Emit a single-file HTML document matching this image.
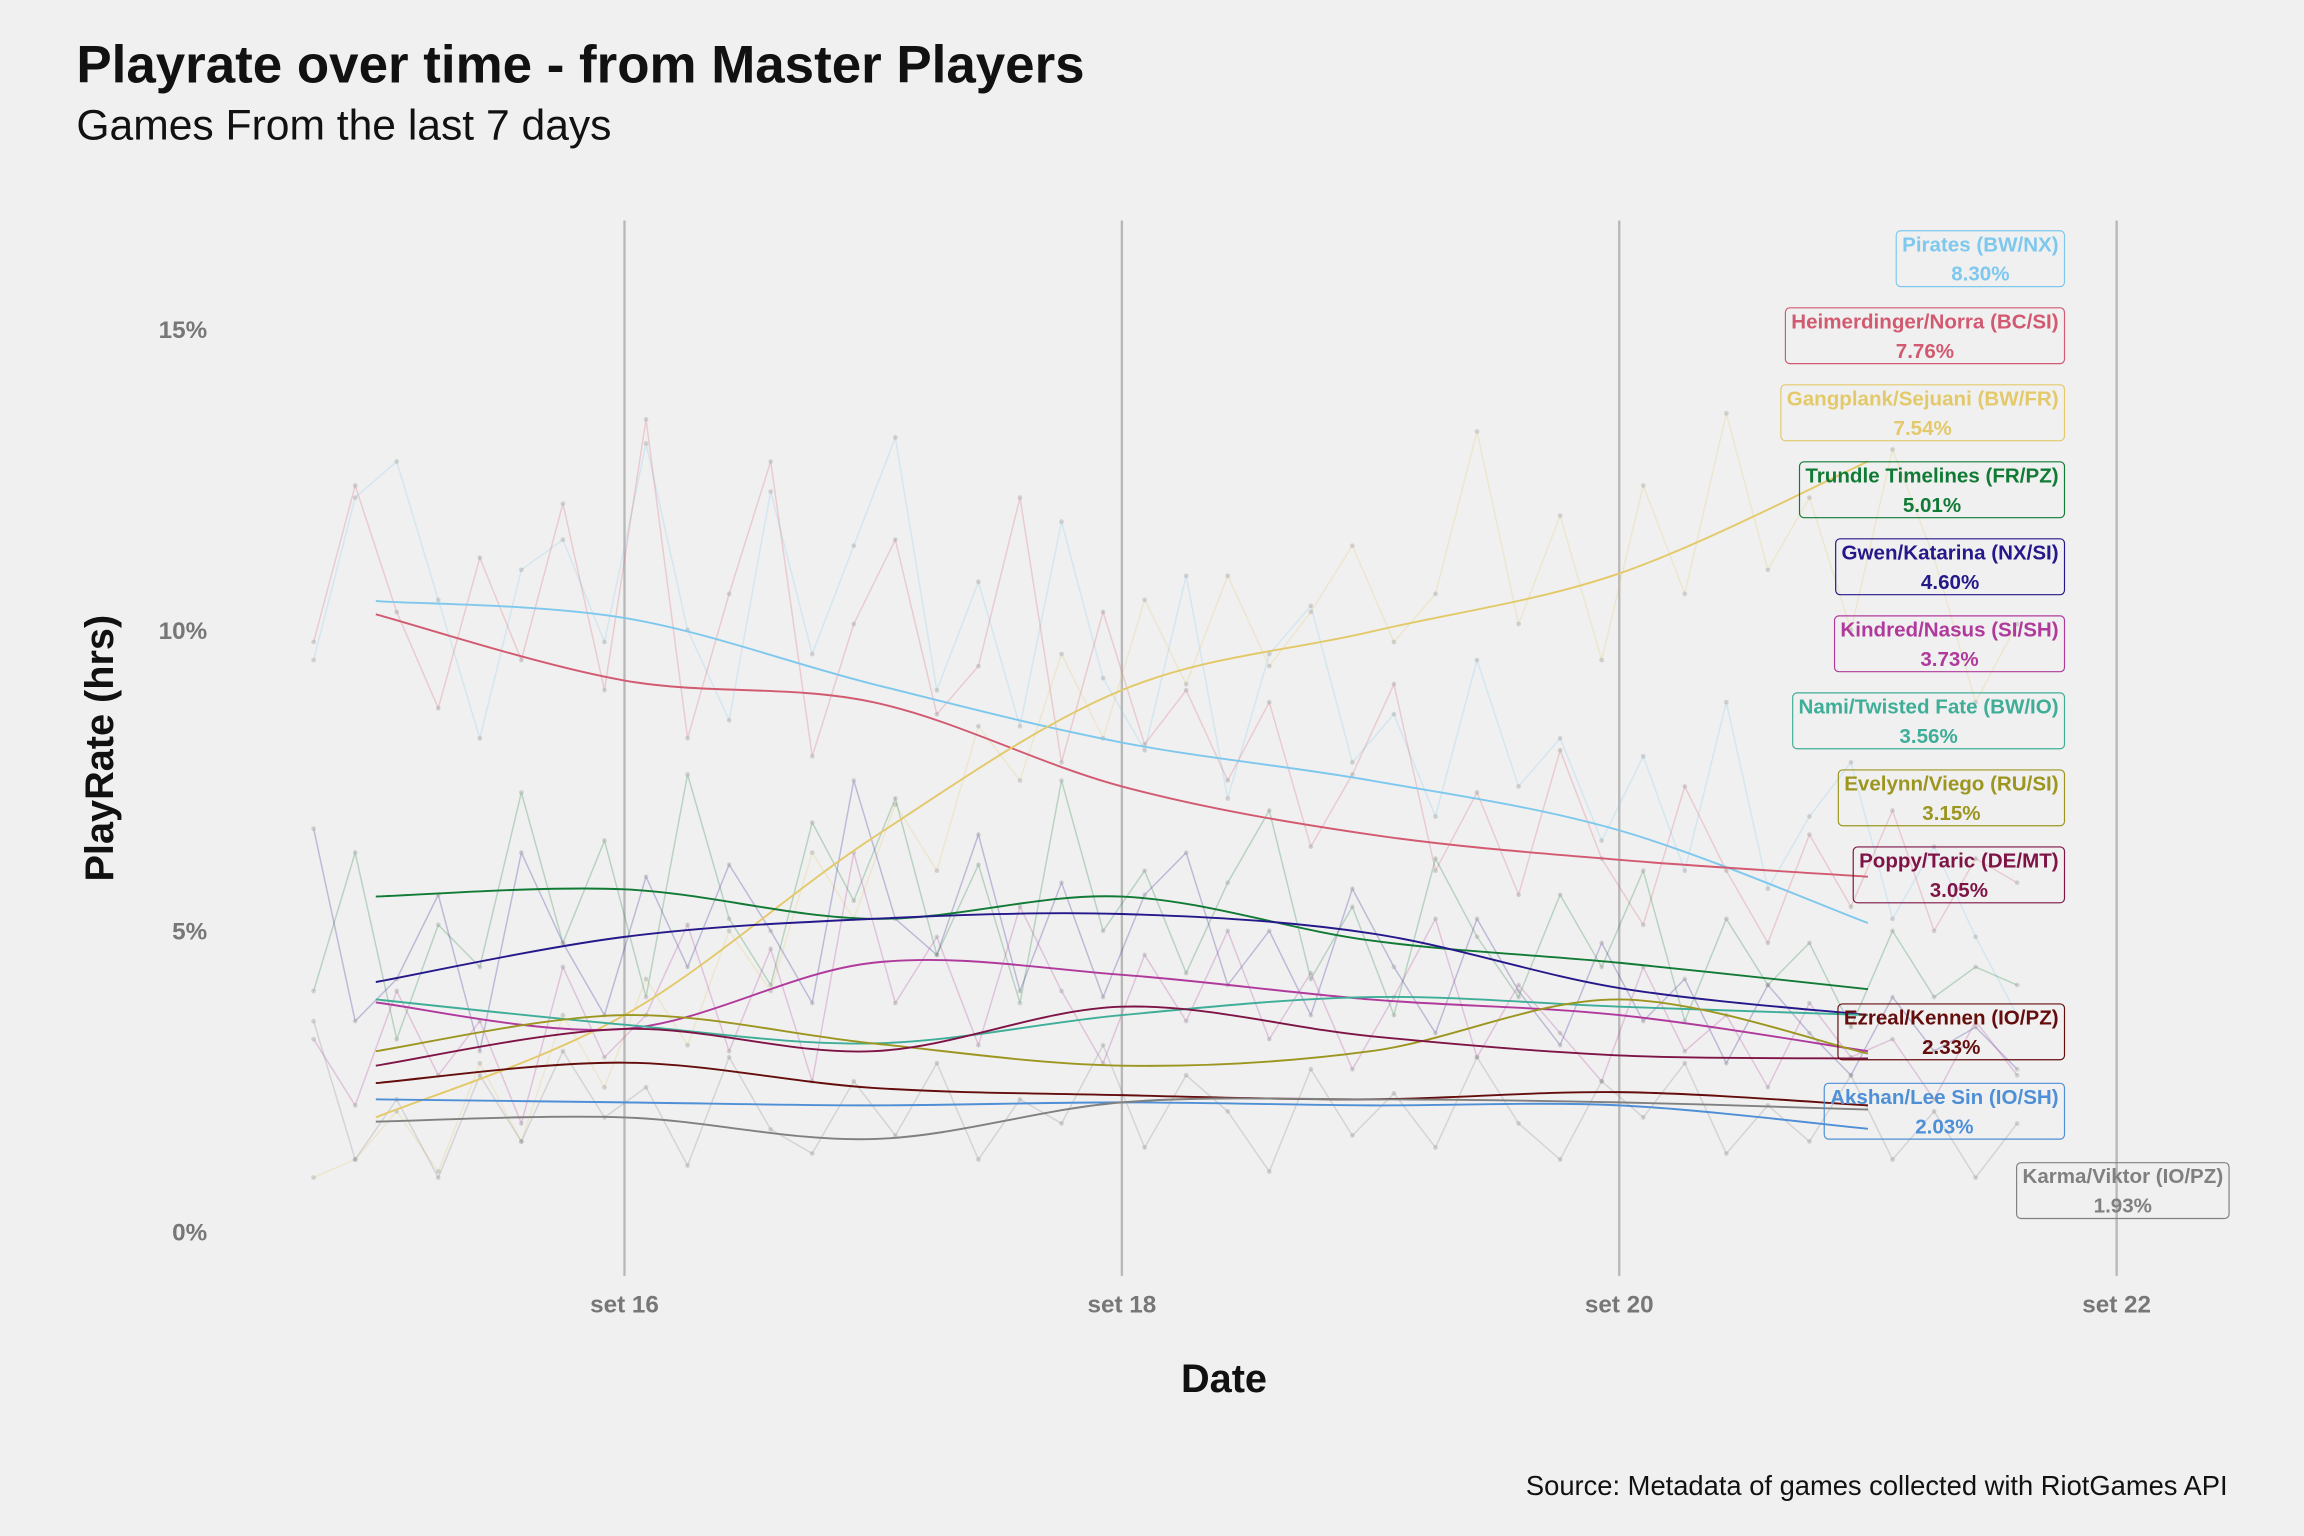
<!DOCTYPE html>
<html><head><meta charset="utf-8">
<style>
html,body{margin:0;padding:0;background:#f0f0f0;}
svg{display:block;font-family:"Liberation Sans",sans-serif;}
</style></head>
<body>
<svg id="chart" width="2304" height="1536" viewBox="0 0 1568 1045" preserveAspectRatio="none" xmlns="http://www.w3.org/2000/svg">
<rect width="1568" height="1045" fill="#f0f0f0"/>
<text x="52" y="56" font-size="36" font-weight="bold" fill="#111">Playrate over time - from Master Players</text>
<text x="52" y="95" font-size="29" fill="#111">Games From the last 7 days</text>
<text transform="translate(77,509) rotate(-90)" text-anchor="middle" font-size="27" font-weight="bold" fill="#111">PlayRate (hrs)</text>
<text x="833" y="947" text-anchor="middle" font-size="27" font-weight="bold" fill="#111">Date</text>
<text x="1516" y="1017" text-anchor="end" font-size="18.6" fill="#111">Source: Metadata of games collected with RiotGames API</text>
<g id="grid"></g>
<g id="raw"></g>
<g id="smooth"></g>
<g id="labels"></g>
</svg>
<script>
const xTickDays = [16, 18, 20, 22];
const xTickLabels = ["set 16", "set 18", "set 20", "set 22"];
const yTicks = [0, 5, 10, 15];
const yTickLabels = ["0%", "5%", "10%", "15%"];
const seriesNames = ["Pirates (BW/NX)","Heimerdinger/Norra (BC/SI)","Gangplank/Sejuani (BW/FR)","Trundle Timelines (FR/PZ)","Gwen/Katarina (NX/SI)","Kindred/Nasus (SI/SH)","Nami/Twisted Fate (BW/IO)","Evelynn/Viego (RU/SI)","Poppy/Taric (DE/MT)","Ezreal/Kennen (IO/PZ)","Akshan/Lee Sin (IO/SH)","Karma/Viktor (IO/PZ)"];
const seriesTotals = ["8.30%","7.76%","7.54%","5.01%","4.60%","3.73%","3.56%","3.15%","3.05%","2.33%","2.03%","1.93%"];
const seriesColors = ["#7ec8ee","#d25a70","#e3c96a","#117a35","#25188a","#b03a9c","#3fae98","#9c9620","#7e1446","#650d0d","#4f8fd6","#808080"];
const smoothDays = [15, 16, 17, 18, 19, 20, 21];
const smoothPirates = [10.48, 10.2, 9.1, 8.13, 7.5, 6.67, 5.13];
const smoothHeimer = [10.26, 9.16, 8.8, 7.4, 6.6, 6.18, 5.9];
const smoothGangplank = [1.9, 3.6, 6.55, 9.0, 9.97, 10.94, 12.8];
const smoothTrundle = [5.57, 5.69, 5.2, 5.57, 4.84, 4.47, 4.03];
const smoothGwen = [4.15, 4.9, 5.2, 5.28, 4.96, 4.05, 3.6];
const smoothKindred = [3.81, 3.37, 4.47, 4.27, 3.86, 3.6, 3.0];
const smoothNami = [3.86, 3.44, 3.13, 3.6, 3.9, 3.74, 3.6];
const smoothEvelynn = [3.0, 3.6, 3.13, 2.76, 3.0, 3.86, 2.96];
const smoothPoppy = [2.76, 3.37, 3.0, 3.74, 3.25, 2.93, 2.88];
const smoothEzreal = [2.47, 2.81, 2.39, 2.27, 2.2, 2.32, 2.1];
const smoothAkshan = [2.2, 2.15, 2.1, 2.15, 2.1, 2.1, 1.71];
const smoothKarma = [1.83, 1.9, 1.54, 2.15, 2.2, 2.15, 2.03];
const rawStart = 14.75, rawEnd = 21.6;
const rawPirates = [9.5,12.2,12.8,10.5,8.2,11.0,11.5,9.8,13.1,10.0,8.5,12.3,9.6,11.4,13.2,9.0,10.8,8.4,11.8,9.2,8.0,10.9,7.2,9.6,10.4,7.8,8.6,6.9,9.5,7.4,8.2,6.5,7.9,6.0,8.8,5.7,6.9,7.8,5.2,6.4,4.9,3.6];
const rawHeimer = [9.8,12.4,10.3,8.7,11.2,9.5,12.1,9.0,13.5,8.2,10.6,12.8,7.9,10.1,11.5,8.6,9.4,12.2,7.8,10.3,8.1,9.0,7.5,8.8,6.4,7.6,9.1,6.0,7.3,5.6,8.0,6.2,5.1,7.4,6.0,4.8,6.6,5.4,7.0,5.0,6.2,5.8];
const rawGangplank = [0.9,1.2,2.0,1.0,2.8,1.5,3.6,2.4,4.2,3.1,5.0,4.0,6.3,5.2,7.1,6.0,8.4,7.5,9.6,8.2,10.5,9.1,10.9,9.4,10.3,11.4,9.8,10.6,13.3,10.1,11.9,9.5,12.4,10.6,13.6,11.0,12.2,10.0,13.0,11.2,8.8,10.1];
const rawTrundle = [4.0,6.3,3.2,5.1,4.4,7.3,4.8,6.5,3.9,7.6,5.2,4.1,6.8,5.5,7.2,4.6,6.1,3.8,7.5,5.0,6.0,4.3,5.8,7.0,4.2,5.4,3.6,6.2,4.9,3.9,5.6,4.4,6.0,3.5,5.2,4.1,4.8,3.4,5.0,3.9,4.4,4.1];
const rawGwen = [6.7,3.5,4.2,5.6,3.0,6.3,4.8,3.6,5.9,4.4,6.1,5.0,3.8,7.5,5.2,4.6,6.6,4.0,5.8,3.9,5.6,6.3,4.1,5.0,3.6,5.7,4.4,3.3,5.2,4.0,3.1,4.8,3.5,4.2,2.8,4.1,3.3,2.6,3.9,3.0,3.4,2.7];
const rawKindred = [3.2,2.1,4.0,2.6,3.5,1.8,4.4,2.9,3.6,5.1,3.0,4.7,2.5,6.3,3.8,4.9,3.1,5.4,4.0,2.8,4.6,3.5,5.0,3.2,4.3,2.7,3.9,5.2,2.9,4.1,3.3,2.5,4.4,3.0,3.6,2.4,3.8,2.9,3.2,2.2,3.5,2.6];
const rawKarma = [3.5,1.2,2.2,0.9,2.6,1.5,3.0,1.9,2.4,1.1,2.9,1.7,1.3,2.5,1.6,2.8,1.2,2.2,1.8,3.1,1.4,2.6,2.0,1.0,2.7,1.6,2.3,1.4,2.9,1.8,1.2,2.5,1.9,2.8,1.3,2.1,1.5,2.6,1.2,2.0,0.9,1.8];
const smoothSeries = [smoothPirates,smoothHeimer,smoothGangplank,smoothTrundle,smoothGwen,smoothKindred,smoothNami,smoothEvelynn,smoothPoppy,smoothEzreal,smoothAkshan,smoothKarma];
const rawSeries = [[rawPirates,0],[rawHeimer,1],[rawGangplank,2],[rawTrundle,3],[rawGwen,4],[rawKindred,5],[rawKarma,11]];

const NS = "http://www.w3.org/2000/svg";
function xScale(d){ return 425 + (d - 16) * 169.25; }
function yScale(v){ return 838 - v * 40.94; }
function mk(tag, attrs, parent){ const e = document.createElementNS(NS, tag); for (const k in attrs) e.setAttribute(k, attrs[k]); parent.appendChild(e); return e; }
function smoothPath(pts){
  let d = "M" + pts[0][0] + "," + pts[0][1];
  for (let i = 0; i < pts.length - 1; i++) {
    const p0 = pts[i-1] || pts[i], p1 = pts[i], p2 = pts[i+1], p3 = pts[i+2] || p2;
    const c1x = p1[0] + (p2[0]-p0[0])/6, c1y = p1[1] + (p2[1]-p0[1])/6;
    const c2x = p2[0] - (p3[0]-p1[0])/6, c2y = p2[1] - (p3[1]-p1[1])/6;
    d += " C" + c1x + "," + c1y + " " + c2x + "," + c2y + " " + p2[0] + "," + p2[1];
  }
  return d;
}
const grid = document.getElementById("grid");
xTickDays.forEach((d, i) => {
  const l = mk("line", {x1: xScale(d), x2: xScale(d), y1: 150, y2: 868, stroke: "#b8b8b8", "stroke-width": 1.6}, grid);
  
  
  const t = mk("text", {x: xScale(d), y: 893, "text-anchor": "middle", "font-size": 16.5, "font-weight": "bold", fill: "#777"}, grid);
  t.textContent = xTickLabels[i];
  
  
});
yTicks.forEach((v, i) => {
  const t = mk("text", {x: 141, y: yScale(v) + 6, "text-anchor": "end", "font-size": 16.5, "font-weight": "bold", fill: "#777"}, grid);
  t.textContent = yTickLabels[i];
  
  
});
const raw = document.getElementById("raw");
rawSeries.forEach(([arr, ci]) => {
  const step = (rawEnd - rawStart) / (arr.length - 1);
  const pts = arr.map((v, i) => [xScale(rawStart + i * step), yScale(v)]);
  const p = mk("polyline", {points: pts.map(q => q.join(",")).join(" "), fill: "none", stroke: seriesColors[ci], "stroke-opacity": 0.25, "stroke-width": 1}, raw);
  
  
  pts.forEach(q => {
    const c = mk("circle", {cx: q[0], cy: q[1], r: 1.6, fill: "#999", "fill-opacity": 0.35}, raw);
    
    
  });
});
const sm = document.getElementById("smooth");
smoothSeries.forEach((arr, si) => {
  const pts = arr.map((v, i) => [xScale(smoothDays[i]), yScale(v)]);
  const p = mk("path", {d: smoothPath(pts), fill: "none", stroke: seriesColors[si], "stroke-width": 1.3}, sm);
  
  
});
const lab = document.getElementById("labels");
seriesNames.forEach((name, i) => {
  let right = 1405, top = 157 + i * 52.4;
  if (i === 9) top = 683;
  if (i === 10) top = 737;
  if (i === 11) { top = 791; right = 1517; }
  const g = mk("g", {}, lab);
  
  
  const tmp = mk("text", {"font-size": 14, "font-weight": "bold"}, g);
  tmp.textContent = name;
  const w = tmp.getComputedTextLength() + 8;
  g.removeChild(tmp);
  const r = mk("rect", {x: right - w, y: top, width: w, height: 38, rx: 3, fill: "none", stroke: seriesColors[i], "stroke-width": 0.8}, g);
  
  
  const cx = right - w / 2;
  const t1 = mk("text", {x: cx, y: top + 14, "text-anchor": "middle", "font-size": 14, "font-weight": "bold", fill: seriesColors[i]}, g);
  t1.textContent = name;
  
  
  const t2 = mk("text", {x: cx, y: top + 34, "text-anchor": "middle", "font-size": 14, "font-weight": "bold", fill: seriesColors[i]}, g);
  t2.textContent = seriesTotals[i];
  
  
});
</script>
</body></html>
